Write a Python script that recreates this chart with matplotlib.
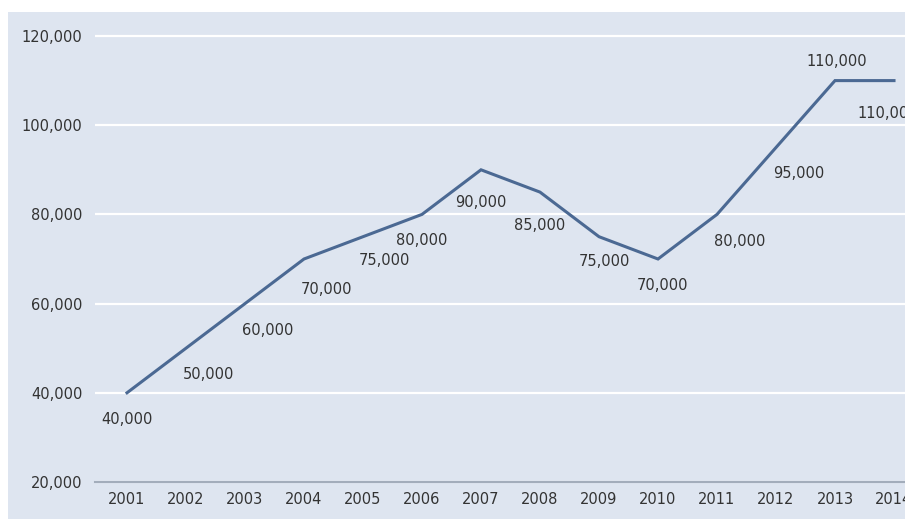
import matplotlib.pyplot as plt
from matplotlib.patches import Rectangle
from matplotlib.ticker import FuncFormatter

years = [2001, 2002, 2003, 2004, 2005, 2006, 2007, 2008, 2009, 2010, 2011, 2012, 2013, 2014]
values = [40000, 50000, 60000, 70000, 75000, 80000, 90000, 85000, 75000, 70000, 80000, 95000, 110000, 110000]

# label offsets in pixels (dx, dy), picked to keep labels off the line
offsets = [(0, -27), (23, -26), (23, -27), (23, -31), (21, -24), (0, -26), (0, -33),
           (0, -33), (5, -25), (5, -26), (23, -27), (23, -26), (2, 19), (-6, -33)]

bg = '#dee5f0'
W, H = 905, 519

fig = plt.figure(figsize=(W / 100, H / 100), dpi=100)
fig.patch.set_facecolor('white')
fig.patches.append(Rectangle((8 / W, 0), 1, (H - 12) / H, transform=fig.transFigure,
                             facecolor=bg, edgecolor='none', zorder=-10))

ax = fig.add_axes([95 / W, (H - 482) / H, (W - 95) / W, (482 - 12) / H])
ax.set_facecolor(bg)

ax.plot(years, values, color='#4b6993', linewidth=2.2, solid_joinstyle='miter', zorder=3)

for x, y, (dx, dy) in zip(years, values, offsets):
    ax.annotate(f'{y:,}', (x, y), xytext=(dx * 0.72, dy * 0.72), textcoords='offset points',
                ha='center', va='center', fontsize=10.5, color='#333333', annotation_clip=False)

ax.set_xlim(2001 - 32 / 59, 2001 + (W - 127) / 59)
ax.set_ylim(20000, 120000 + 24 / 4.46 * 1000)
ax.set_yticks([20000, 40000, 60000, 80000, 100000, 120000])
ax.set_xticks(years)
ax.yaxis.set_major_formatter(FuncFormatter(lambda v, p: f'{int(v):,}'))
ax.grid(axis='y', color='white', linewidth=1.6)
ax.set_axisbelow(True)
for s in ['top', 'right', 'left']:
    ax.spines[s].set_visible(False)
ax.spines['bottom'].set_color('#a3adbb')
ax.spines['bottom'].set_linewidth(1.5)
ax.tick_params(length=0, labelsize=10.5, colors='#333333')
ax.tick_params(axis='y', pad=9)
ax.tick_params(axis='x', pad=7)

plt.savefig('out.png', dpi=100, facecolor=fig.get_facecolor())
